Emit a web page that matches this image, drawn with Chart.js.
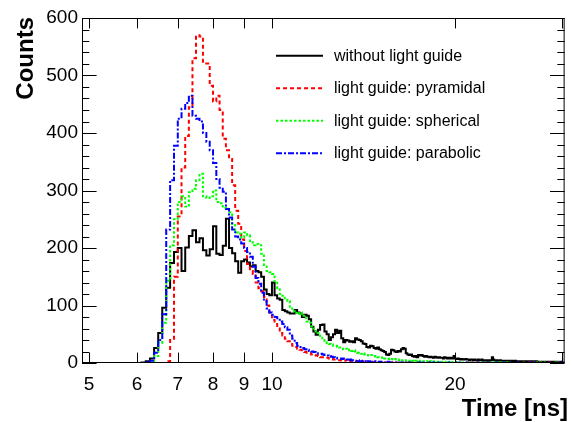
<!DOCTYPE html>
<html><head><meta charset="utf-8">
<script src="https://cdn.jsdelivr.net/npm/chart.js@4.4.1/dist/chart.umd.min.js"></script>
<style>html,body{margin:0;padding:0;background:#fff;}#wrap{width:572px;height:422px;}</style>
</head><body><div id="wrap"><canvas id="c" width="572" height="422"></canvas></div>
<script>
// Histogram binning: 0.1 ns bins starting at 4.8 ns
const binStart = 4.8;
const binWidth = 0.1;
const seriesNames = ['without light guide', 'light guide: pyramidal', 'light guide: spherical', 'light guide: parabolic'];

// Counts per bin (rows: 4.8-4.9, then 5.0-5.9, 6.0-6.9, ... , 30.0-30.3)
const countsWithout = [
  0,0,
  0,0,0,0,0,0,0,0,0,0,
  0,1,3,8,26,52,96,131,174,193,
  200,160,201,221,231,210,217,196,187,198,
  238,190,188,204,251,200,191,177,157,177,
  180,175,168,170,160,158,150,128,120,118,
  140,118,112,110,92,90,88,86,86,92,
  88,86,80,84,82,76,63,55,49,58,
  66,67,55,50,40,45,50,58,52,56,
  43,36,40,39,37,38,36,43,41,40,
  38,34,33,28,27,30,29,26,25,27,
  24,22,21,19,15,14,16,23,22,20,
  19,21,20,24,26,25,17,15,14,15,
  12,11,12,10,14,13,14,12,11,12,
  11,10,11,10,9,11,10,9,10,9,
  9,8,10,9,8,9,8,9,8,12,
  8,7,8,7,6,7,6,6,7,6,
  6,5,6,6,5,6,5,5,6,5,
  5,6,5,4,5,5,4,5,4,5,
  10,6,5,4,5,4,4,5,4,4,
  4,3,4,4,3,4,3,3,4,3,
  3,4,3,3,2,3,3,2,3,3,
  2,3,2,3,2,2,3,2,2,3,
  2,2,3,2,2,2,1,2,2,2,
  2,1,2,2,1,2,1,2,1,2,
  1,2,1,1,2,1,1,1,2,1,
  1,1,1,1
];
const countsPyramidal = [
  0,0,
  0,0,0,0,0,0,0,0,0,0,
  0,0,0,0,0,0,0,3,40,150,
  255,340,395,445,530,570,568,521,521,482,
  455,465,440,390,370,355,309,265,242,215,
  195,172,160,155,140,130,125,115,100,88,
  75,70,62,52,48,42,38,33,30,28,
  25,23,22,19,18,17,15,14,13,12,
  10,10,9,9,8,7,6,6,5,5,
  4,4,5,3,4,3,3,2,3,2,
  2,3,2,2,1,2,2,1,2,1,
  1,2,1,1,1,0,1,1,0,1,
  1,0,1,0,1,0,0,1,0,1,
  0,1,0,0,1,0,1,0,0,0,
  1,0,0,1,0,0,0,1,0,0,
  0,0,1,0,0,0,1,0,0,0,
  0,1,0,0,0,1,0,0,0,0,
  0,0,1,0,0,0,0,1,0,0,
  1,0,0,0,0,0,1,0,0,0,
  0,0,0,1,0,0,0,0,0,1,
  0,0,0,0,1,0,0,0,0,0,
  0,1,0,0,0,0,0,0,1,0,
  0,0,0,0,0,1,0,0,0,0,
  0,0,1,0,0,0,0,0,0,0,
  0,0,0,0,0,0,1,0,0,0,
  0,0,0,0,0,0,0,0,0,0,
  0,0,0,0
];
const countsSpherical = [
  0,0,
  0,0,0,0,0,0,0,0,0,0,
  0,0,0,3,12,35,70,143,205,250,
  280,290,272,297,303,318,329,290,287,290,
  300,280,278,270,268,262,242,227,225,218,
  227,222,210,205,207,205,190,168,160,158,
  155,142,130,120,117,112,108,95,90,87,
  85,88,82,78,72,70,64,60,55,52,
  44,40,36,35,33,32,30,30,28,27,
  25,24,25,22,23,21,22,20,18,17,
  16,17,15,14,13,14,12,12,11,10,
  10,9,10,8,8,7,8,7,6,7,
  6,5,6,5,5,4,5,4,4,5,
  4,3,4,3,3,4,3,3,3,2,
  3,2,3,2,2,3,2,2,2,2,
  2,2,1,2,2,1,2,1,2,1,
  1,2,1,1,2,1,1,1,1,1,
  1,1,0,1,1,0,1,1,0,1,
  1,0,1,0,1,1,0,1,0,1,
  0,1,1,0,1,0,0,1,0,1,
  1,0,0,1,0,1,0,0,1,0,
  0,1,0,0,1,0,0,1,0,0,
  1,0,0,0,1,0,0,0,1,0,
  0,0,1,0,0,0,1,0,0,0,
  0,1,0,0,0,0,1,0,0,0,
  0,0,0,1,0,0,0,0,1,0,
  0,0,0,0
];
const countsParabolic = [
  0,0,
  0,0,0,0,0,0,0,0,0,0,
  0,0,1,4,18,40,85,232,318,378,
  425,442,452,465,430,425,420,400,385,370,
  348,320,305,298,268,253,232,220,215,208,
  200,193,185,168,148,138,122,108,95,88,
  84,80,78,72,68,62,58,48,42,35,
  30,28,26,24,23,21,20,19,17,16,
  16,15,14,13,12,11,10,9,8,8,
  7,8,6,5,6,5,4,4,5,3,
  3,4,3,2,3,2,2,3,2,2,
  2,1,2,1,1,2,1,1,1,1,
  1,1,0,1,1,0,1,0,1,0,
  1,0,0,1,0,1,0,0,1,0,
  0,1,0,0,1,0,0,0,1,0,
  0,0,1,0,0,1,0,0,0,0,
  1,0,0,0,1,0,0,0,0,1,
  0,0,0,1,0,0,0,0,1,0,
  0,1,0,0,0,0,1,0,0,0,
  0,0,0,0,1,0,0,0,0,0,
  1,0,0,0,0,0,0,1,0,0,
  0,0,0,1,0,0,0,0,0,0,
  0,0,0,0,0,0,1,0,0,0,
  0,1,0,0,0,0,0,0,0,0,
  0,0,0,0,0,1,0,0,0,0,
  0,0,0,0,0,0,0,0,1,0,
  0,0,0,0
];

const xTickValues = [5, 6, 7, 8, 9, 10, 20, 30];
const xTickLabels = {'5':'5','6':'6','7':'7','8':'8','9':'9','10':'10','20':'20'};
const yTickValues = [0, 100, 200, 300, 400, 500, 600];
const yMinorStep = 20;
const xRange = [4.87, 30.3];
const yRange = [0, 600];
const xTitle = 'Time [ns]';
const yTitle = 'Counts';

const FONT = "'Liberation Sans', Arial, Helvetica, sans-serif";

// each bin: point at its low edge, held until the next edge (plus closing point at the last high edge)
function histPoints(counts) {
  const pts = counts.map((c, i) => ({x: Math.round((binStart + i * binWidth) * 100) / 100, y: c}));
  pts.push({x: Math.round((binStart + counts.length * binWidth) * 100) / 100, y: counts[counts.length - 1]});
  return pts;
}

const styles = [
  {color: '#000000', dash: [], order: 3},
  {color: '#ff0000', dash: [4, 3], order: 2},
  {color: '#00ff00', dash: [2.5, 2], order: 1},
  {color: '#0000ff', dash: [6, 2, 2, 2], order: 0}
];
const allCounts = [countsWithout, countsPyramidal, countsSpherical, countsParabolic];

const datasets = allCounts.map((cnt, i) => ({
  label: seriesNames[i],
  data: histPoints(cnt),
  stepped: 'before',
  borderColor: styles[i].color,
  borderDash: styles[i].dash,
  order: styles[i].order,
  borderWidth: 2,
  pointRadius: 0,
  fill: false,
  tension: 0
}));

const framePlugin = {
  id: 'framePlugin',
  afterDraw(chart) {
    const {ctx, chartArea: a} = chart;
    const x = chart.scales.x, y = chart.scales.y;
    ctx.save();
    ctx.strokeStyle = '#000';
    ctx.lineWidth = 1;
    ctx.setLineDash([]);
    ctx.strokeRect(a.left + 0.5, a.top + 0.5, a.right - a.left - 1, a.bottom - a.top - 1);
    ctx.beginPath();
    const yMajor = yTickValues[1] - yTickValues[0];
    for (let v = yRange[0]; v <= yRange[1]; v += yMinorStep) {
      const py = Math.round(y.getPixelForValue(v)) + 0.5;
      const len = (v % yMajor === 0) ? 14.6 : 7.3;
      ctx.moveTo(a.left, py); ctx.lineTo(a.left + len, py);
      ctx.moveTo(a.right, py); ctx.lineTo(a.right - len, py);
    }
    xTickValues.forEach(v => {
      const px = Math.round(x.getPixelForValue(v)) + 0.5;
      ctx.moveTo(px, a.bottom); ctx.lineTo(px, a.bottom - 10.4);
      ctx.moveTo(px, a.top); ctx.lineTo(px, a.top + 10.4);
    });
    ctx.stroke();

    // legend
    chart.data.datasets.forEach((ds, i) => {
      const ly = 55.7 + i * 32.5;
      ctx.beginPath();
      ctx.strokeStyle = ds.borderColor;
      ctx.lineWidth = 2;
      ctx.setLineDash(ds.borderDash);
      ctx.moveTo(276, ly); ctx.lineTo(323, ly);
      ctx.stroke();
      ctx.setLineDash([]);
      ctx.fillStyle = '#000';
      ctx.font = '16px ' + FONT;
      ctx.textAlign = 'left';
      ctx.textBaseline = 'alphabetic';
      ctx.fillText(ds.label, 334, ly + 5);
    });

    // axis titles
    ctx.fillStyle = '#000';
    ctx.font = 'bold 24px ' + FONT;
    ctx.textAlign = 'right';
    ctx.textBaseline = 'alphabetic';
    ctx.fillText(xTitle, 568, 416);
    ctx.save();
    ctx.translate(33, 17);
    ctx.rotate(-Math.PI / 2);
    ctx.fillText(yTitle, 0, 0);
    ctx.restore();
    ctx.restore();
  }
};

new Chart(document.getElementById('c'), {
  type: 'line',
  data: {datasets},
  options: {
    responsive: false,
    animation: false,
    layout: {padding: {top: 18, right: 2, left: 0, bottom: 0}},
    plugins: {legend: {display: false}, tooltip: {enabled: false}},
    scales: {
      x: {
        type: 'logarithmic',
        min: xRange[0], max: xRange[1],
        grid: {display: false, drawTicks: false},
        border: {display: false},
        afterBuildTicks: s => { s.ticks = xTickValues.map(v => ({value: v})); },
        afterFit: s => { s.height = 59; },
        ticks: {
          autoSkip: false, maxRotation: 0, minRotation: 0, padding: 10, color: '#000',
          font: {family: FONT, size: 19},
          callback: v => xTickLabels[String(v)] || ''
        }
      },
      y: {
        type: 'linear',
        min: yRange[0], max: yRange[1],
        grid: {display: false, drawTicks: false},
        border: {display: false},
        afterBuildTicks: s => { s.ticks = yTickValues.map(v => ({value: v})); },
        afterFit: s => { s.width = 82; },
        ticks: {padding: 4, color: '#000', font: {family: FONT, size: 19}}
      }
    }
  },
  plugins: [framePlugin]
});
</script>
</body></html>
